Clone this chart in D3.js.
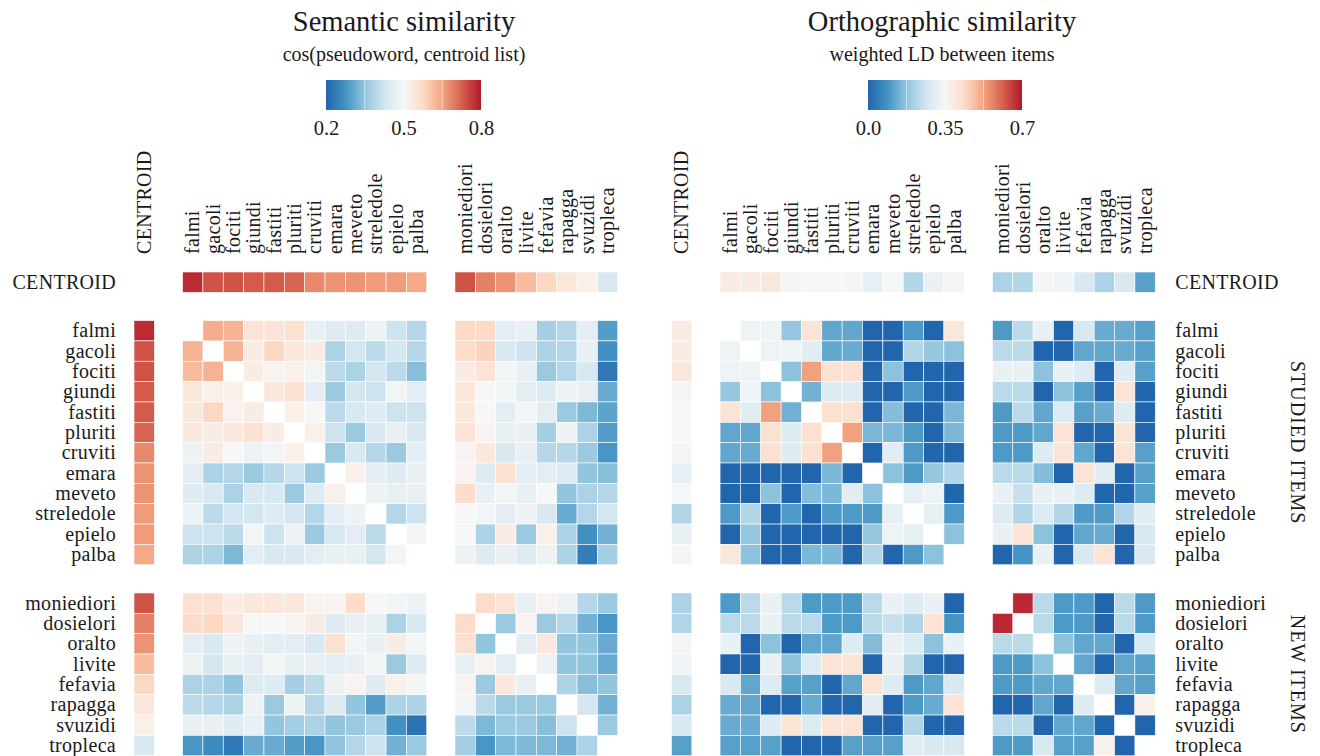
<!DOCTYPE html>
<html>
<head>
<meta charset="utf-8">
<script src="https://cdn.jsdelivr.net/npm/d3@7"></script>
<style>
  body { margin: 0; background: #fff; }
  svg text { font-family: "Liberation Serif", "DejaVu Serif", serif; fill: #1a1a1a; }
</style>
</head>
<body>
<div id="chart"></div>
<script>
// Items
const studied = ["falmi","gacoli","fociti","giundi","fastiti","pluriti","cruviti","emara","meveto","streledole","epielo","palba"]
const newItems = ["moniediori","dosielori","oralto","livite","fefavia","rapagga","svuzidi","tropleca"]
const items = studied.concat(newItems)

// Semantic similarity: cos to centroid, then item x item (rows = items, null = diagonal)
const semCentroid = [0.78,0.74,0.74,0.73,0.73,0.72,0.68,0.67,0.67,0.66,0.66,0.645, 0.74,0.69,0.67,0.62,0.58,0.545,0.52,0.44]
const semRows = [
  [null,0.64,0.63,0.55,0.55,0.56,0.47,0.45,0.45,0.48,0.42,0.39, 0.575,0.575,0.46,0.47,0.37,0.39,0.46,0.29],
  [0.63,null,0.63,0.53,0.58,0.54,0.53,0.38,0.43,0.40,0.43,0.39, 0.57,0.585,0.44,0.42,0.38,0.39,0.47,0.27],
  [0.62,0.63,null,0.53,0.51,0.52,0.49,0.40,0.38,0.43,0.40,0.34, 0.53,0.55,0.49,0.47,0.36,0.39,0.44,0.23],
  [0.54,0.52,0.52,null,0.54,0.56,0.46,0.36,0.43,0.42,0.49,0.46, 0.54,0.50,0.49,0.46,0.45,0.48,0.47,0.31],
  [0.54,0.58,0.51,0.53,null,0.52,0.50,0.40,0.44,0.45,0.42,0.42, 0.54,0.50,0.46,0.49,0.46,0.36,0.33,0.30],
  [0.54,0.53,0.54,0.56,0.53,null,0.52,0.42,0.36,0.44,0.47,0.44, 0.55,0.51,0.47,0.47,0.37,0.48,0.38,0.29],
  [0.48,0.53,0.50,0.48,0.49,0.52,null,0.36,0.44,0.39,0.36,0.46, 0.51,0.54,0.44,0.47,0.39,0.39,0.36,0.28],
  [0.46,0.38,0.39,0.36,0.39,0.42,0.36,null,0.52,0.46,0.45,0.47, 0.51,0.45,0.56,0.46,0.46,0.45,0.35,0.34],
  [0.45,0.44,0.38,0.44,0.44,0.36,0.45,0.52,null,0.48,0.47,0.47, 0.57,0.47,0.49,0.47,0.50,0.35,0.38,0.39],
  [0.48,0.40,0.43,0.43,0.45,0.43,0.39,0.46,0.48,null,0.39,0.42, 0.50,0.49,0.46,0.48,0.44,0.31,0.39,0.43],
  [0.42,0.42,0.40,0.49,0.42,0.48,0.36,0.44,0.46,0.40,null,0.49, 0.50,0.38,0.53,0.36,0.52,0.38,0.27,0.32],
  [0.38,0.38,0.33,0.46,0.44,0.44,0.46,0.47,0.47,0.43,0.49,null, 0.48,0.45,0.47,0.45,0.48,0.38,0.24,0.37],
  [0.56,0.56,0.53,0.54,0.54,0.54,0.51,0.51,0.57,0.50,0.49,0.48, null,0.57,0.55,0.47,0.51,0.48,0.39,0.36],
  [0.57,0.58,0.54,0.50,0.50,0.51,0.53,0.45,0.47,0.47,0.38,0.44, 0.57,null,0.36,0.51,0.36,0.39,0.32,0.28],
  [0.46,0.44,0.48,0.47,0.46,0.46,0.44,0.56,0.49,0.47,0.53,0.49, 0.56,0.35,null,0.46,0.54,0.35,0.35,0.31],
  [0.48,0.43,0.47,0.46,0.49,0.47,0.47,0.46,0.47,0.49,0.36,0.45, 0.47,0.51,0.46,null,0.48,0.35,0.35,0.31],
  [0.38,0.38,0.35,0.45,0.45,0.37,0.40,0.48,0.51,0.45,0.52,0.49, 0.51,0.36,0.54,0.47,null,0.38,0.34,0.35],
  [0.40,0.39,0.38,0.48,0.36,0.48,0.39,0.45,0.35,0.29,0.38,0.38, 0.49,0.40,0.36,0.36,0.36,null,0.43,0.32],
  [0.47,0.47,0.45,0.47,0.35,0.37,0.38,0.35,0.36,0.38,0.27,0.22, 0.40,0.33,0.36,0.36,0.34,0.42,null,0.36],
  [0.28,0.26,0.23,0.31,0.31,0.29,0.28,0.35,0.39,0.42,0.32,0.36, 0.37,0.28,0.33,0.33,0.33,0.32,0.38,null]
]

// Orthographic similarity (weighted LD)
const orthCentroid = [0.39,0.385,0.40,0.34,0.345,0.345,0.34,0.31,0.345,0.22,0.32,0.34, 0.21,0.22,0.34,0.335,0.28,0.21,0.28,0.11]
const orthRows = [
  [null,0.33,0.33,0.18,0.41,0.12,0.12,0,0,0.10,0,0.40, 0.10,0.23,0.32,0,0.28,0.13,0.13,0.11],
  [0.33,null,0.33,0.33,0.30,0.12,0.13,0,0,0.22,0.18,0.17, 0.23,0.23,0,0,0.12,0.12,0.13,0.11],
  [0.33,0.33,null,0.17,0.53,0.42,0.42,0,0.17,0,0,0, 0.32,0.32,0.17,0.32,0.29,0,0.29,0.11],
  [0.18,0.33,0.17,null,0.14,0.29,0.29,0,0,0.10,0,0, 0.23,0.23,0,0.17,0.11,0,0.41,0],
  [0.41,0.30,0.53,0.14,null,0.42,0.42,0,0.16,0,0,0.15, 0.10,0.23,0.12,0.29,0.11,0.13,0.29,0],
  [0.12,0.12,0.42,0.29,0.42,null,0.53,0.15,0.15,0.10,0,0.15, 0.10,0.10,0.12,0.41,0,0,0.41,0],
  [0.12,0.13,0.42,0.29,0.42,0.53,null,0,0.30,0.10,0,0, 0.10,0.10,0.29,0.41,0.12,0,0.41,0.11],
  [0,0,0,0,0,0.15,0,null,0.17,0.10,0.18,0.22, 0.23,0.23,0.16,0,0.41,0.30,0,0.11],
  [0,0,0.17,0,0.16,0.15,0.30,0.17,null,0.31,0.33,0, 0.32,0.25,0.32,0.32,0.29,0,0,0.11],
  [0.10,0.22,0,0.10,0,0.10,0.10,0.10,0.31,null,0.31,0.10, 0.29,0.22,0.29,0.22,0.10,0.10,0.22,0.30],
  [0,0.18,0,0,0,0,0,0.18,0.33,0.31,null,0.17, 0.32,0.41,0.17,0,0.12,0.13,0,0.28],
  [0.40,0.17,0,0,0.15,0.15,0,0.22,0,0.10,0.17,null, 0,0.09,0.32,0,0.28,0.41,0,0.28],
  [0.10,0.23,0.32,0.23,0.10,0.10,0.10,0.23,0.32,0.29,0.32,0, null,0.68,0.23,0.10,0.10,0,0.23,0.10],
  [0.23,0.23,0.32,0.23,0.23,0.10,0.10,0.23,0.25,0.22,0.41,0.09, 0.68,null,0.23,0.10,0.10,0,0.23,0.10],
  [0.32,0,0.17,0,0.12,0.12,0.29,0.16,0.32,0.29,0.17,0.32, 0.23,0.23,null,0.17,0.12,0.12,0,0.28],
  [0,0,0.32,0.17,0.29,0.41,0.41,0,0.32,0.22,0,0, 0.10,0.10,0.17,null,0.12,0,0.12,0.11],
  [0.28,0.12,0.29,0.11,0.11,0,0.12,0.41,0.29,0.10,0.12,0.28, 0.10,0.10,0.12,0.12,null,0.29,0.12,0.11],
  [0.13,0.12,0,0,0.13,0,0,0.30,0,0.10,0.13,0.41, 0,0,0.12,0,0.29,null,0,0.37],
  [0.13,0.13,0.29,0.41,0.29,0.41,0.41,0,0,0.22,0,0, 0.23,0.23,0,0.12,0.12,0,null,0],
  [0.11,0.11,0.11,0,0,0,0.11,0.11,0.11,0.30,0.28,0.28, 0.10,0.10,0.28,0.11,0.11,0.37,0,null]
]

// Colour bar ticks
const semTicks = [0.2, 0.5, 0.8]
const orthTicks = [0, 0.35, 0.7]

// RdBu (9 class), reversed: blue = low, red = high
const rdbu = ["#2166ac","#4393c3","#92c5de","#d1e5f0","#f7f7f7","#fddbc7","#f4a582","#d6604d","#b2182b"]

const width = 1320, height = 756
const cell = 20.35, gap = 28.2
const y0 = 272
const labelSize = 20

const svg = d3.select("#chart").append("svg")
  .attr("width", width)
  .attr("height", height)

function makeColor(lo, hi) {
  const stops = rdbu.map((c, i) => lo + (hi - lo) * i / (rdbu.length - 1))
  return d3.scaleLinear().domain(stops).range(rdbu).clamp(true)
}

// position scale with centroid band, then studied and new blocks separated by gaps
function makePos(start) {
  const c = d3.scaleBand().domain(["CENTROID"]).range([start, start + cell])
  const s0 = start + cell + gap
  const s = d3.scaleBand().domain(studied).range([s0, s0 + studied.length * cell])
  const n0 = s0 + studied.length * cell + gap
  const n = d3.scaleBand().domain(newItems).range([n0, n0 + newItems.length * cell])
  const f = w => w === "CENTROID" ? c(w) : (studied.includes(w) ? s(w) : n(w))
  f.bw = cell
  f.end = n0 + newItems.length * cell
  return f
}

function drawPanel(p) {
  const x = makePos(p.x0)
  const y = makePos(y0)
  const color = makeColor(p.lo, p.hi)
  const g = svg.append("g")

  // flatten the values into cells
  const cells = []
  items.forEach((w, i) => {
    cells.push({r: "CENTROID", c: w, v: p.centroid[i]})
    cells.push({r: w, c: "CENTROID", v: p.centroid[i]})
    items.forEach((w2, j) => {
      const v = p.rows[i][j]
      if (v !== null) cells.push({r: w, c: w2, v: v})
    })
  })

  g.selectAll("rect.cell")
    .data(cells)
    .enter()
    .append("rect")
    .attr("class", "cell")
    .attr("x", d => x(d.c))
    .attr("y", d => y(d.r))
    .attr("width", x.bw)
    .attr("height", y.bw)
    .attr("fill", d => color(d.v))
    .attr("stroke", "#fff")
    .attr("stroke-width", 0.6)

  // column labels (rotated)
  g.selectAll("text.col")
    .data(["CENTROID"].concat(items))
    .enter()
    .append("text")
    .attr("class", "col")
    .attr("transform", d => `translate(${x(d) + cell / 2},254) rotate(-90)`)
    .attr("dy", "0.33em")
    .attr("font-size", labelSize)
    .attr("letter-spacing", 0.3)
    .text(d => d)

  // row labels
  const lx = p.labelsRight ? x.end + 20 : p.x0 - 18
  g.selectAll("text.row")
    .data(["CENTROID"].concat(items))
    .enter()
    .append("text")
    .attr("class", "row")
    .attr("x", lx)
    .attr("y", d => y(d) + cell / 2)
    .attr("dy", "0.33em")
    .attr("text-anchor", p.labelsRight ? "start" : "end")
    .attr("font-size", labelSize)
    .attr("letter-spacing", 0.3)
    .text(d => d)

  // titles
  g.append("text")
    .attr("x", p.cx)
    .attr("y", 31)
    .attr("text-anchor", "middle")
    .attr("font-size", 28.5)
    .text(p.title)

  g.append("text")
    .attr("x", p.cx)
    .attr("y", 61)
    .attr("text-anchor", "middle")
    .attr("font-size", 20)
    .text(p.subtitle)

  // colour bar
  const gradId = "grad" + Math.round(p.x0)
  const grad = svg.append("defs").append("linearGradient").attr("id", gradId)
  rdbu.forEach((c, i) => {
    grad.append("stop").attr("offset", (i / (rdbu.length - 1) * 100) + "%").attr("stop-color", c)
  })
  const cb = d3.scaleLinear().domain([p.lo, p.hi]).range(p.cbar)
  g.append("rect")
    .attr("x", p.cbar[0])
    .attr("y", 80)
    .attr("width", p.cbar[1] - p.cbar[0])
    .attr("height", 30)
    .attr("fill", `url(#${gradId})`)

  // faint minor tick lines inside the bar
  g.selectAll("line.minor")
    .data([p.lo + (p.hi - p.lo) / 4, p.lo + 3 * (p.hi - p.lo) / 4])
    .enter()
    .append("line")
    .attr("x1", d => cb(d)).attr("x2", d => cb(d))
    .attr("y1", 80).attr("y2", 110)
    .attr("stroke", "#fff")
    .attr("stroke-opacity", 0.5)
    .attr("stroke-width", 1)

  const axis = d3.axisBottom(cb).tickValues(p.ticks).tickSize(0).tickPadding(0).tickFormat(p.fmt)
  const ax = g.append("g")
    .attr("transform", "translate(0,120)")
    .call(axis)
  ax.select(".domain").remove()
  ax.selectAll("text")
    .attr("font-size", 20.5)
    .attr("font-family", "Liberation Serif, serif")
    .attr("fill", "#1a1a1a")
}

drawPanel({
  x0: 134, lo: 0.2, hi: 0.8, centroid: semCentroid, rows: semRows,
  labelsRight: false, cx: 404, cbar: [326, 481], ticks: semTicks,
  fmt: d3.format(".1f"),
  title: "Semantic similarity", subtitle: "cos(pseudoword, centroid list)"
})

drawPanel({
  x0: 671.5, lo: 0, hi: 0.7, centroid: orthCentroid, rows: orthRows,
  labelsRight: true, cx: 942, cbar: [868, 1022], ticks: orthTicks,
  fmt: d => d === 0.35 ? "0.35" : d3.format(".1f")(d),
  title: "Orthographic similarity", subtitle: "weighted LD between items"
})

// group labels on the far right
const yPos = makePos(y0)
const groups = [
  {name: "STUDIED ITEMS", list: studied},
  {name: "NEW ITEMS", list: newItems}
]
svg.selectAll("text.group")
  .data(groups)
  .enter()
  .append("text")
  .attr("class", "group")
  .attr("transform", d => {
    const top = yPos(d.list[0])
    const bottom = yPos(d.list[d.list.length - 1]) + cell
    return `translate(1298,${(top + bottom) / 2}) rotate(90)`
  })
  .attr("text-anchor", "middle")
  .attr("dy", "0.33em")
  .attr("font-size", 20)
  .attr("letter-spacing", 1)
  .text(d => d.name)
</script>
</body>
</html>
